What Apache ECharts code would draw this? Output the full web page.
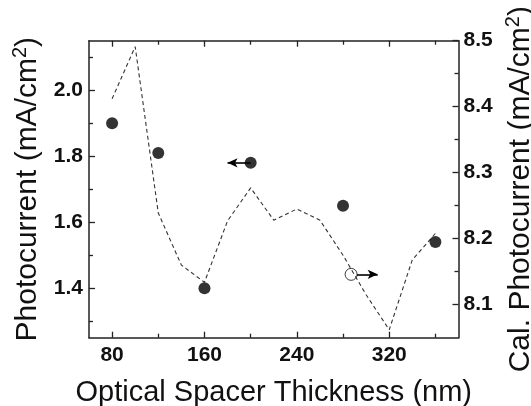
<!DOCTYPE html>
<html>
<head>
<meta charset="utf-8">
<script src="https://cdn.jsdelivr.net/npm/echarts@6/dist/echarts.min.js"></script>
<style>html,body{margin:0;padding:0;background:#fff}#c{width:531px;height:406px}</style>
</head>
<body>
<div id="c"></div>
<script>
// Measured photocurrent (left axis)
const measX = [80, 120, 160, 200, 280, 360];
const measY = [1.90, 1.81, 1.40, 1.78, 1.65, 1.54];
// Calculated photocurrent (right axis)
const calX = [80, 100, 120, 140, 160, 180, 200, 220, 240, 260, 280, 300, 320, 340, 360];
const calY = [8.412, 8.491, 8.239, 8.160, 8.134, 8.227, 8.277, 8.228, 8.245, 8.228, 8.175, 8.115, 8.062, 8.168, 8.208];
// Annotation markers (open circle on the calculated curve) and arrows
const openMarker = [287, 8.146];
const leftArrow = { from: [200, 1.78], to: [180, 1.78] };
const rightArrow = { from: [292, 8.146], to: [310, 8.146] };
// Tick values
const xMajor = [80, 160, 240, 320];
const xMinor = [120, 200, 280, 360];
const yLeftMajor = [1.4, 1.6, 1.8, 2.0];
const yLeftMinor = [1.3, 1.5, 1.7, 1.9, 2.1];
const yRightMajor = [8.1, 8.2, 8.3, 8.4, 8.5];
const yRightMinor = [8.15, 8.25, 8.35, 8.45];

const FONT = 'Liberation Sans, Arial, sans-serif';
const AX = '#222';
const tickFont = { fontSize: 21, fontWeight: 'bold', color: '#111', fontFamily: FONT };
const nameRich = {
  a: { fontSize: 30, fontFamily: FONT, color: '#111', lineHeight: 34 },
  s: { fontSize: 20, fontFamily: FONT, color: '#111', lineHeight: 20, verticalAlign: 'top' }
};

function xAx(pos, ticks, len, withLine, withLabel) {
  const o = {
    type: 'value', position: pos, min: 60, max: 380,
    axisLine: { show: withLine, lineStyle: { color: AX, width: 1.5 } },
    axisTick: { show: true, inside: true, length: len, customValues: ticks, lineStyle: { color: AX, width: 1.3 } },
    axisLabel: withLabel ? Object.assign({ show: true, customValues: ticks, margin: 7 }, tickFont) : { show: false },
    splitLine: { show: false }
  };
  if (withLabel) {
    o.name = 'Optical Spacer Thickness (nm)';
    o.nameLocation = 'middle';
    o.nameGap = 41;
    o.nameTextStyle = { fontSize: 29, fontFamily: FONT, color: '#111' };
  }
  return o;
}
function yAx(pos, min, max, ticks, len, withLine, withLabel, name, gap, margin) {
  const o = {
    type: 'value', position: pos, min: min, max: max,
    axisLine: { show: withLine, lineStyle: { color: AX, width: 1.5 } },
    axisTick: { show: true, inside: true, length: len, customValues: ticks, lineStyle: { color: AX, width: 1.3 } },
    axisLabel: withLabel ? Object.assign({ show: true, customValues: ticks, margin: margin, formatter: v => v.toFixed(1) }, tickFont) : { show: false },
    splitLine: { show: false }
  };
  if (name) {
    o.name = name;
    o.nameLocation = 'middle';
    o.nameGap = gap;
    o.nameTextStyle = { rich: nameRich };
  }
  return o;
}

const arrowStyle = {
  silent: true, symbol: ['none', 'arrow'], symbolSize: [7, 10],
  label: { show: false },
  itemStyle: { color: '#000' },
  lineStyle: { color: '#000', width: 1.6, type: 'solid' }
};

const chart = echarts.init(document.getElementById('c'), null, { renderer: 'canvas' });
chart.setOption({
  animation: false,
  backgroundColor: '#fff',
  grid: { left: 89, right: 72.5, top: 40.7, bottom: 68.3, containLabel: false, outerBoundsMode: 'none' },
  xAxis: [
    xAx('bottom', xMajor, 6, true, true),
    xAx('bottom', xMinor, 4, false, false),
    xAx('top', xMajor, 6, true, false),
    xAx('top', xMinor, 4, false, false)
  ],
  yAxis: [
    yAx('left', 1.25, 2.15, yLeftMajor, 6, true, true, '{a|Photocurrent (mA/cm}{s|2}{a|)}', 38, 6),
    yAx('left', 1.25, 2.15, yLeftMinor, 4, false, false),
    yAx('right', 8.05, 8.5, yRightMajor, 6, true, true, '{a|Cal. Photocurrent (mA/cm}{s|2}{a|)}', 38, 5),
    yAx('right', 8.05, 8.5, yRightMinor, 4, false, false)
  ],
  series: [
    {
      type: 'line', xAxisIndex: 0, yAxisIndex: 2,
      data: calX.map((x, i) => [x, calY[i]]),
      showSymbol: false, symbol: 'none',
      lineStyle: { color: '#333', width: 1.1, type: [4, 3] },
      z: 2
    },
    {
      type: 'scatter', xAxisIndex: 0, yAxisIndex: 0,
      data: measX.map((x, i) => [x, measY[i]]),
      symbol: 'circle', symbolSize: 12,
      itemStyle: { color: '#000' },
      z: 4,
      markLine: Object.assign({ data: [[{ coord: leftArrow.from }, { coord: leftArrow.to }]] }, arrowStyle)
    },
    {
      type: 'scatter', xAxisIndex: 0, yAxisIndex: 2,
      data: [openMarker],
      symbol: 'circle', symbolSize: 12,
      itemStyle: { color: 'rgba(0,0,0,0)', borderColor: '#111', borderWidth: 1 },
      z: 4,
      markLine: Object.assign({ data: [[{ coord: rightArrow.from }, { coord: rightArrow.to }]] }, arrowStyle)
    }
  ]
});
</script>
</body>
</html>
